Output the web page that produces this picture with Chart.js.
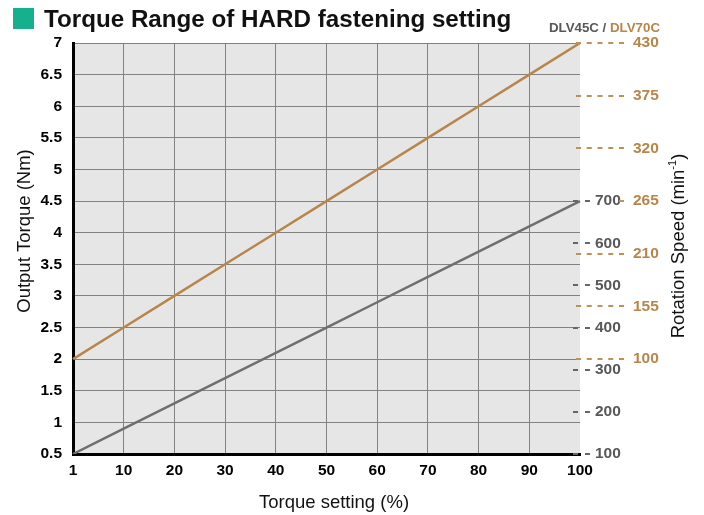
<!DOCTYPE html>
<html><head><meta charset="utf-8">
<script src="https://cdn.jsdelivr.net/npm/chart.js@4.4.0/dist/chart.umd.min.js"></script>
<style>html,body{margin:0;padding:0;background:#fff;}#wrap{width:704px;height:515px;position:relative;}</style>
</head><body><div id="wrap"><canvas id="c"></canvas></div>
<script>
// ---- data ----
const torqueSettings = ['1','10','20','30','40','50','60','70','80','90','100'];
const torqueDLV70C = [2, 2.5, 3, 3.5, 4, 4.5, 5, 5.5, 6, 6.5, 7];
const torqueDLV45C = [0.5, 0.9, 1.3, 1.7, 2.1, 2.5, 2.9, 3.3, 3.7, 4.1, 4.5];
const torqueTicks = [0.5, 1, 1.5, 2, 2.5, 3, 3.5, 4, 4.5, 5, 5.5, 6, 6.5, 7];
const speedTicksDLV45C = [100, 200, 300, 400, 500, 600, 700];
const speedTicksDLV70C = [100, 155, 210, 265, 320, 375, 430];
// torque values at which the lowest / highest speed ticks sit
const anchorDLV45C = [0.5, 4.5];
const anchorDLV70C = [2, 7];

const ORANGE = '#b8864b';
const GRAY_LINE = '#6f6f6f';
const GRAY_TEXT = '#585858';
const SANS = '"Liberation Sans", Arial, Helvetica, sans-serif';
const TICK_FONT = { family: SANS, size: 15.5, weight: 'bold' };

const tMin = torqueTicks[0], tMax = torqueTicks[torqueTicks.length - 1];
function speedRange(ticks, anchor) {
  const lo = ticks[0], hi = ticks[ticks.length - 1];
  const slope = (hi - lo) / (anchor[1] - anchor[0]);
  return { min: lo + (tMin - anchor[0]) * slope, max: lo + (tMax - anchor[0]) * slope };
}
const r45 = speedRange(speedTicksDLV45C, anchorDLV45C);
const r70 = speedRange(speedTicksDLV70C, anchorDLV70C);

const decor = {
  id: 'decor',
  beforeDraw(chart) {
    const { ctx, chartArea: a } = chart;
    ctx.save();
    ctx.fillStyle = '#e6e6e6';
    ctx.fillRect(a.left, a.top, a.right - a.left, a.bottom - a.top);
    ctx.restore();
  },
  afterDraw(chart) {
    const { ctx, chartArea: a } = chart;
    const s45 = chart.scales.y45, s70 = chart.scales.y70;
    ctx.save();
    // title
    ctx.fillStyle = '#16b08e';
    ctx.fillRect(13, 8, 21, 21);
    ctx.fillStyle = '#111';
    ctx.font = 'bold 24.2px ' + SANS;
    ctx.textBaseline = 'alphabetic';
    ctx.textAlign = 'left';
    ctx.fillText('Torque Range of HARD fastening setting', 44, 27);
    // model legend
    ctx.font = 'bold 13.3px ' + SANS;
    const t2 = 'DLV70C';
    const t1 = 'DLV45C / ';
    const w2 = ctx.measureText(t2).width;
    const w1 = ctx.measureText(t1).width;
    const xr = 660;
    ctx.fillStyle = ORANGE;
    ctx.fillText(t2, xr - w2, 31.5);
    ctx.fillStyle = GRAY_TEXT;
    ctx.fillText(t1, xr - w2 - w1, 31.5);
    // dashes for gray speed axis
    const y45s = speedTicksDLV45C.map(v => Math.round(s45.getPixelForValue(v)));
    ctx.lineWidth = 2;
    ctx.strokeStyle = '#666';
    ctx.setLineDash([5, 7]);
    y45s.forEach(y => {
      ctx.beginPath(); ctx.moveTo(a.right - 7, y); ctx.lineTo(a.right + 10, y); ctx.stroke();
    });
    // dashes for orange speed axis
    ctx.strokeStyle = '#c0905a';
    ctx.setLineDash([5, 5.75]);
    speedTicksDLV70C.forEach(v => {
      const y = Math.round(s70.getPixelForValue(v));
      const clash = y45s.some(g => Math.abs(g - y) < 5);
      const x0 = clash ? a.right + 39 : a.right - 4;
      ctx.beginPath(); ctx.moveTo(x0, y); ctx.lineTo(a.right + 45, y); ctx.stroke();
    });
    ctx.setLineDash([]);
    // axis titles
    ctx.fillStyle = '#111';
    ctx.font = '18.5px ' + SANS;
    ctx.textAlign = 'center';
    ctx.textBaseline = 'middle';
    ctx.save();
    ctx.translate(25, 231);
    ctx.rotate(-Math.PI / 2);
    ctx.fillText('Output Torque (Nm)', 0, 0);
    ctx.restore();
    ctx.textBaseline = 'alphabetic';
    ctx.fillText('Torque setting (%)', 334, 508);
    // right title with superscript
    ctx.save();
    ctx.translate(679, 246);
    ctx.rotate(-Math.PI / 2);
    const pA = 'Rotation Speed (min', pB = '-1', pC = ')';
    ctx.font = '18.5px ' + SANS;
    const wA = ctx.measureText(pA).width, wC = ctx.measureText(pC).width;
    ctx.font = '11px ' + SANS;
    const wB = ctx.measureText(pB).width;
    const tot = wA + wB + wC;
    let x = -tot / 2;
    ctx.textAlign = 'left';
    ctx.textBaseline = 'middle';
    ctx.font = '18.5px ' + SANS;
    ctx.fillText(pA, x, 0); x += wA;
    ctx.font = '11px ' + SANS;
    ctx.fillText(pB, x, -6); x += wB;
    ctx.font = '18.5px ' + SANS;
    ctx.fillText(pC, x, 0);
    ctx.restore();
    ctx.restore();
  }
};

new Chart(document.getElementById('c'), {
  type: 'line',
  data: {
    labels: torqueSettings,
    datasets: [
      { label: 'DLV70C', data: torqueDLV70C, borderColor: ORANGE, borderWidth: 2.5, pointRadius: 0, yAxisID: 'y', tension: 0 },
      { label: 'DLV45C', data: torqueDLV45C, borderColor: GRAY_LINE, borderWidth: 2.5, pointRadius: 0, yAxisID: 'y', tension: 0 }
    ]
  },
  options: {
    responsive: true,
    maintainAspectRatio: false,
    animation: false,
    layout: { padding: { top: 43, left: 0, right: 0, bottom: 0 } },
    plugins: { legend: { display: false }, tooltip: { enabled: false }, title: { display: false } },
    scales: {
      x: {
        type: 'category',
        offset: false,
        grid: {
          drawTicks: false,
          color: c => (c.index === 0 || c.index === torqueSettings.length - 1) ? 'rgba(0,0,0,0)' : '#828282',
          lineWidth: 1
        },
        border: { display: true, color: '#000', width: 3 },
        ticks: { color: '#000', font: TICK_FONT, padding: 7, autoSkip: false, maxRotation: 0 },
        afterFit: s => { s.height = 61; }
      },
      y: {
        position: 'left',
        min: tMin, max: tMax,
        afterBuildTicks: s => { s.ticks = torqueTicks.map(v => ({ value: v })); },
        grid: { drawTicks: false, color: '#828282', lineWidth: 1 },
        border: { display: true, color: '#000', width: 3 },
        ticks: { color: '#000', font: TICK_FONT, padding: 11, callback: v => String(v) },
        afterFit: s => { s.width = 73; }
      },
      y45: {
        position: 'right',
        min: r45.min, max: r45.max,
        afterBuildTicks: s => { s.ticks = speedTicksDLV45C.map(v => ({ value: v })); },
        grid: { drawOnChartArea: false, drawTicks: false },
        border: { display: false },
        ticks: { color: GRAY_TEXT, font: TICK_FONT, padding: 15, callback: v => String(v) },
        afterFit: s => { s.width = 53; }
      },
      y70: {
        position: 'right',
        min: r70.min, max: r70.max,
        afterBuildTicks: s => { s.ticks = speedTicksDLV70C.map(v => ({ value: v })); },
        grid: { drawOnChartArea: false, drawTicks: false },
        border: { display: false },
        ticks: { color: ORANGE, font: TICK_FONT, padding: 0, callback: v => String(v) },
        afterFit: s => { s.width = 71; }
      }
    }
  },
  plugins: [decor]
});
</script>
</body></html>
